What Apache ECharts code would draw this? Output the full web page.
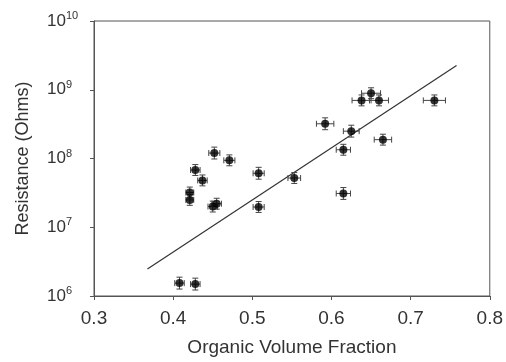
<!DOCTYPE html>
<html lang="en">
  <head>
    <meta charset="UTF-8" />
    <title>resistance vs organic volume fraction</title>
    <script src="https://cdn.jsdelivr.net/npm/echarts@6/dist/echarts.min.js"></script>
    <style>
      html, body { margin: 0; padding: 0; background: #fff; }
      #main { width: 506px; height: 362px; }
    </style>
  </head>
  <body>
    <div id="main"></div>
    <script>
      // measured points
      var fraction = [0.408, 0.428, 0.421, 0.421, 0.428, 0.437, 0.452, 0.450, 0.455, 0.471, 0.508,
                      0.508, 0.553, 0.592, 0.615, 0.615, 0.625, 0.638, 0.650, 0.660, 0.665, 0.730];
      var resistance = [1.54e6, 1.49e6, 3.2e7, 2.5e7, 6.8e7, 4.8e7, 1.2e8, 2.0e7, 2.2e7, 9.4e7, 6.1e7,
                        1.97e7, 5.2e7, 3.2e8, 1.34e8, 3.1e7, 2.5e8, 7.0e8, 8.9e8, 7.0e8, 1.88e8, 7.0e8];
      // error bars: +/- in fraction, multiplicative factor in resistance
      var fractionErr = [0.006, 0.006, 0.005, 0.005, 0.006, 0.006, 0.007, 0.006, 0.006, 0.007, 0.007,
                         0.007, 0.008, 0.011, 0.009, 0.009, 0.010, 0.012, 0.012, 0.012, 0.011, 0.014];
      var resistanceErr = [1.22, 1.22, 1.2, 1.2, 1.2, 1.2, 1.22, 1.2, 1.2, 1.2, 1.22,
                           1.2, 1.2, 1.22, 1.2, 1.22, 1.22, 1.2, 1.2, 1.2, 1.2, 1.2];
      // fitted trend line end points
      var fitX = [0.3675, 0.758];
      var fitY = [2.48e6, 2.25e9];

      var chart = echarts.init(document.getElementById('main'));
      var font = 'Liberation Sans, Arial, sans-serif';

      var points = fraction.map(function (x, i) { return [x, resistance[i]]; });
      var bars = fraction.map(function (x, i) {
        return [x, resistance[i], fractionErr[i], resistanceErr[i]];
      });

      var option = {
        animation: false,
        grid: { left: 94, right: 16, top: 21, bottom: 64, show: true, borderColor: '#555', borderWidth: 1 },
        xAxis: {
          type: 'value', min: 0.3, max: 0.8, interval: 0.1,
          name: 'Organic Volume Fraction', nameLocation: 'middle', nameGap: 42,
          nameTextStyle: { fontFamily: font, fontSize: 19, color: '#333' },
          axisLine: { lineStyle: { color: '#555' } },
          axisTick: { show: true, length: 4, lineStyle: { color: '#555' } },
          axisLabel: { fontFamily: font, fontSize: 19, color: '#333', margin: 13,
            formatter: function (v) { return v.toFixed(1); } },
          splitLine: { show: false }
        },
        yAxis: {
          type: 'log', logBase: 10, min: 1e6, max: 1e10,
          name: 'Resistance (Ohms)', nameLocation: 'middle', nameGap: 62,
          nameTextStyle: { fontFamily: font, fontSize: 18, color: '#333' },
          axisLine: { lineStyle: { color: '#555' } },
          axisTick: { show: true, length: 4, lineStyle: { color: '#555' } },
          minorTick: { show: false },
          axisLabel: {
            fontFamily: font, fontSize: 17, color: '#333', margin: 47, align: 'left',
            formatter: function (v) { return '10{sup|' + Math.round(Math.log10(v)) + '}'; },
            rich: { sup: { fontSize: 11, fontFamily: font, color: '#333', verticalAlign: 'top', padding: [0, 0, 10, 0] } }
          },
          splitLine: { show: false }
        },
        series: [
          {
            type: 'line',
            data: fitX.map(function (x, i) { return [x, fitY[i]]; }),
            symbol: 'none',
            lineStyle: { color: '#333', width: 1.2 },
            z: 1
          },
          {
            type: 'custom',
            data: bars,
            z: 2,
            renderItem: function (params, api) {
              var x = api.value(0), y = api.value(1), dx = api.value(2), f = api.value(3);
              var c = api.coord([x, y]);
              var l = api.coord([x - dx, y]), r = api.coord([x + dx, y]);
              var t = api.coord([x, y * f]), b = api.coord([x, y / f]);
              var cap = 3;
              var style = { stroke: '#444', lineWidth: 1 };
              var lines = [
                [l[0], c[1], r[0], c[1]],
                [l[0], c[1] - cap, l[0], c[1] + cap],
                [r[0], c[1] - cap, r[0], c[1] + cap],
                [c[0], t[1], c[0], b[1]],
                [c[0] - cap, t[1], c[0] + cap, t[1]],
                [c[0] - cap, b[1], c[0] + cap, b[1]]
              ];
              return {
                type: 'group',
                children: lines.map(function (s) {
                  return { type: 'line', shape: { x1: s[0], y1: s[1], x2: s[2], y2: s[3] }, style: style };
                })
              };
            }
          },
          {
            type: 'scatter',
            data: points,
            symbol: 'circle',
            symbolSize: 8,
            itemStyle: { color: '#000' },
            z: 3
          }
        ]
      };

      chart.setOption(option);
    </script>
  </body>
</html>
